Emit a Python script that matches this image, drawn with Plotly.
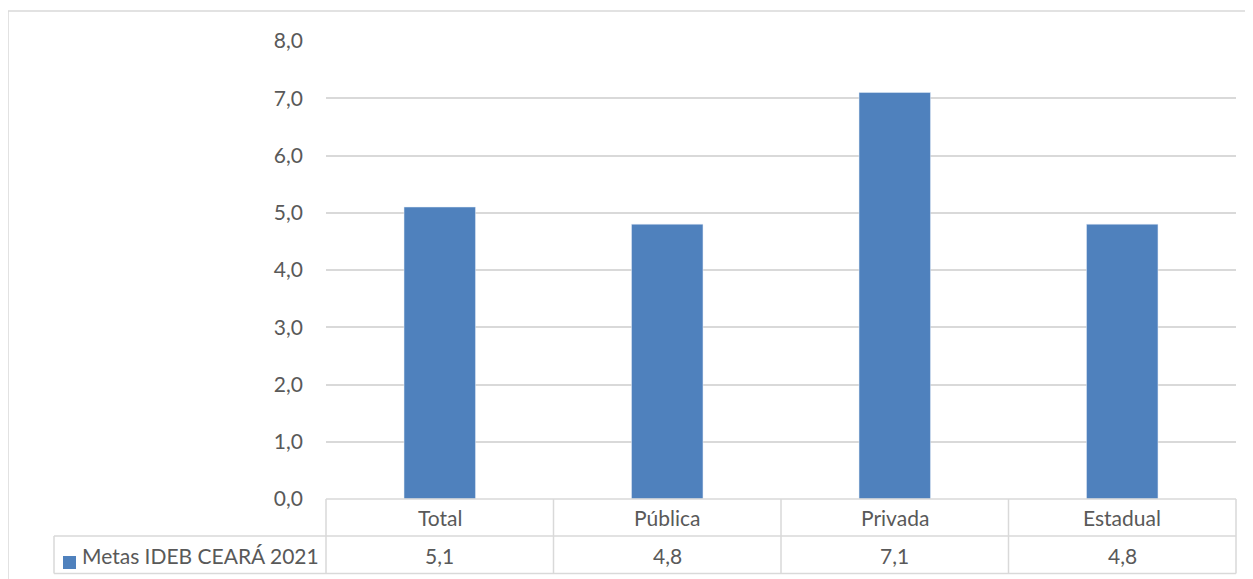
import plotly.graph_objects as go

categories = ["Total", "Pública", "Privada", "Estadual"]
values = [5.1, 4.8, 7.1, 4.8]
series_name = "Metas IDEB CEARÁ 2021"
y_ticks = [0, 1, 2, 3, 4, 5, 6, 7, 8]

# page body has an 8px default margin: work in page pixels, convert to figure pixels
OFF = 8
W, H = 1253 - OFF, 579 - OFF
L, R, T, B = 326 - OFF, 17, 41 - OFF, 80
pw, ph = W - L - R, H - T - B

def px(x):
    return (x - OFF - L) / pw

def py(y):
    return (H - B - (y - OFF)) / ph

BAR = "#4f81bd"
GRID = "#d9d9d9"
TXT = "#595959"
FONT = "Lato"
FS = 21

fig = go.Figure()
fig.add_trace(go.Bar(x=categories, y=values, marker_color=BAR, width=0.314,
                     name=series_name, showlegend=False))

def fmt(v):
    return f"{v:.1f}".replace(".", ",")

annotations = []
for c, v in zip(categories, values):
    annotations.append(dict(x=c, y=py(517), xref="x", yref="paper", text=c,
                            showarrow=False, font=dict(family=FONT, size=FS, color=TXT),
                            xanchor="center", yanchor="middle"))
    annotations.append(dict(x=c, y=py(555), xref="x", yref="paper", text=fmt(v),
                            showarrow=False, font=dict(family=FONT, size=FS, color=TXT),
                            xanchor="center", yanchor="middle"))
annotations.append(dict(x=px(80), y=py(555), xref="paper", yref="paper", text=series_name,
                        showarrow=False, font=dict(family=FONT, size=FS, color=TXT),
                        xanchor="left", yanchor="middle"))

line = dict(color=GRID, width=1.5)
shapes = []
# outer chart border
shapes.append(dict(type="rect", xref="paper", yref="paper", x0=px(8), x1=px(1270),
                   y0=py(600), y1=py(11), line=dict(color=GRID, width=1.5)))
# table horizontal lines
for yy, x0 in [(499, 326), (536, 54), (573.5, 54)]:
    shapes.append(dict(type="line", xref="paper", yref="paper", x0=px(x0), x1=px(1236),
                       y0=py(yy), y1=py(yy), line=line))
# table vertical lines
for i in range(len(categories) + 1):
    xx = 326 + i * pw / len(categories)
    shapes.append(dict(type="line", xref="paper", yref="paper", x0=px(xx), x1=px(xx),
                       y0=py(499), y1=py(573.5), line=line))
shapes.append(dict(type="line", xref="paper", yref="paper", x0=px(54), x1=px(54),
                   y0=py(536), y1=py(573.5), line=line))
# legend key
shapes.append(dict(type="rect", xref="paper", yref="paper", x0=px(63), x1=px(76),
                   y0=py(569), y1=py(556), fillcolor=BAR, line=dict(width=0)))

fig.update_layout(
    width=W, height=H,
    margin=dict(l=L, r=R, t=T, b=B, pad=0),
    paper_bgcolor="white", plot_bgcolor="white",
    separators=",.",
    font=dict(family=FONT, size=FS, color=TXT),
    xaxis=dict(showticklabels=False, showgrid=False, zeroline=False, showline=False,
               range=[-0.5, 3.5], fixedrange=True),
    yaxis=dict(range=[0, 8], tickvals=y_ticks, tickformat=".1f", showgrid=True,
               gridcolor=GRID, gridwidth=1.5, zeroline=False, showline=False,
               ticks="", ticklabelstandoff=22,
               tickfont=dict(family=FONT, size=FS, color=TXT)),
    annotations=annotations,
    shapes=shapes,
)

fig.write_html("out.html")
